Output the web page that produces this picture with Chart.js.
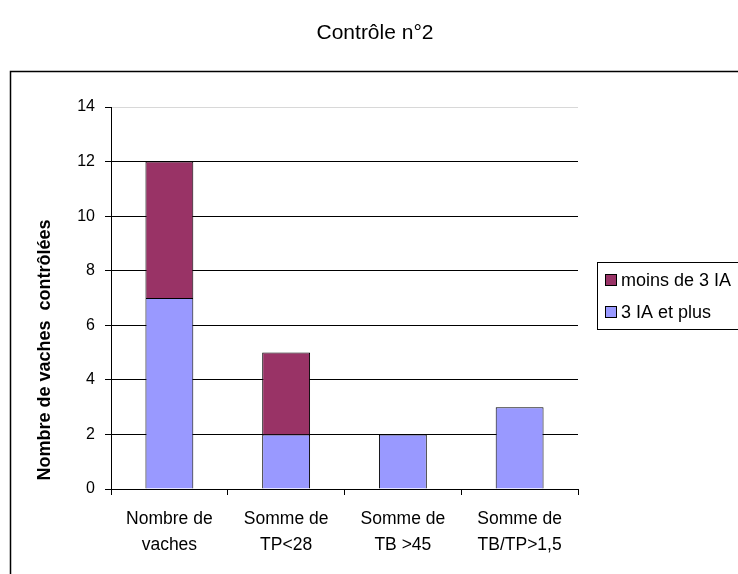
<!DOCTYPE html>
<html>
<head>
<meta charset="utf-8">
<script src="https://cdn.jsdelivr.net/npm/chart.js@4"></script>
<style>
  body { margin: 0; background: #fff; }
  #wrap { width: 738px; height: 574px; }
</style>
</head>
<body>
<div id="wrap"><canvas id="chart" width="738" height="574"></canvas></div>
<script>
const categories = [
  ["Nombre de", "vaches"],
  ["Somme de", "TP<28"],
  ["Somme de", "TB >45"],
  ["Somme de", "TB/TP>1,5"]
];
const seriesNames = ["3 IA et plus", "moins de 3 IA"];
const troisIaEtPlus = [7, 2, 2, 3];
const moinsDe3Ia = [5, 3, 0, 0];
const yTicks = [0, 2, 4, 6, 8, 10, 12, 14];

const FONT = "'Liberation Sans', Arial, sans-serif";
Chart.defaults.font.family = FONT;
Chart.defaults.color = "#000";

// frame, title, axis title and legend box drawn by hand
const decor = {
  id: "decor",
  beforeDraw(chart) {
    const ctx = chart.ctx;
    ctx.save();
    ctx.fillStyle = "#fff";
    ctx.fillRect(0, 0, chart.width, chart.height);
    ctx.strokeStyle = "#000";
    ctx.lineWidth = 1.5;
    ctx.strokeRect(10.5, 71.5, 740, 520);
    ctx.restore();
  },
  afterDraw(chart) {
    const ctx = chart.ctx;
    ctx.save();
    ctx.fillStyle = "#000";
    ctx.font = "21px " + FONT;
    ctx.textAlign = "center";
    ctx.textBaseline = "middle";
    ctx.fillText("Contrôle n°2", 375, 33);

    // y axis title
    ctx.save();
    ctx.translate(45, 350);
    ctx.rotate(-Math.PI / 2);
    ctx.font = "bold 18px " + FONT;
    ctx.fillText("Nombre de vaches  contrôlées", 0, 0);
    ctx.restore();

    // legend
    ctx.strokeStyle = "#000";
    ctx.lineWidth = 1;
    ctx.strokeRect(597.5, 262.5, 150, 67);
    const items = chart.data.datasets.slice().reverse();
    ctx.font = "18px " + FONT;
    ctx.textAlign = "left";
    items.forEach((ds, i) => {
      const y = 280 + i * 32;
      ctx.fillStyle = ds.backgroundColor;
      ctx.fillRect(605, y - 6, 12, 12);
      ctx.strokeRect(605.5, y - 5.5, 11, 11);
      ctx.fillStyle = "#000";
      ctx.fillText(ds.label, 621, y + 1);
    });
    ctx.restore();
  }
};

new Chart(document.getElementById("chart"), {
  type: "bar",
  data: {
    labels: categories,
    datasets: [
      {
        label: seriesNames[0],
        data: troisIaEtPlus,
        backgroundColor: "#9999FF",
        borderColor: "#000",
        borderWidth: 1,
        categoryPercentage: 1,
        barPercentage: 0.41
      },
      {
        label: seriesNames[1],
        data: moinsDe3Ia,
        backgroundColor: "#993366",
        borderColor: "#000",
        borderWidth: 1,
        categoryPercentage: 1,
        barPercentage: 0.41
      }
    ]
  },
  options: {
    responsive: false,
    animation: false,
    layout: { padding: { left: 30, top: 107, right: 160, bottom: 0 } },
    plugins: {
      legend: { display: false },
      tooltip: { enabled: false },
      title: { display: false }
    },
    scales: {
      x: {
        stacked: true,
        offset: true,
        grid: {
          offset: true,
          drawOnChartArea: false,
          color: "#000",
          tickLength: 6
        },
        border: { color: "#000" },
        ticks: {
          font: { size: 17.5, lineHeight: 1.5 },
          padding: 11,
          maxRotation: 0
        },
        afterFit(scale) { scale.height = 85; }
      },
      y: {
        stacked: true,
        min: 0,
        max: 14,
        afterBuildTicks(scale) { scale.ticks = yTicks.map(v => ({ value: v })); },
        grid: {
          color: ctx => (ctx.tick && ctx.tick.value === 14 ? "#d8d8d8" : "#000"),
          tickColor: "#000",
          tickLength: 6
        },
        border: { color: "#000" },
        ticks: { font: { size: 16 }, padding: 10 },
        afterFit(scale) { scale.width = 81; }
      }
    }
  },
  plugins: [decor]
});
</script>
</body>
</html>
